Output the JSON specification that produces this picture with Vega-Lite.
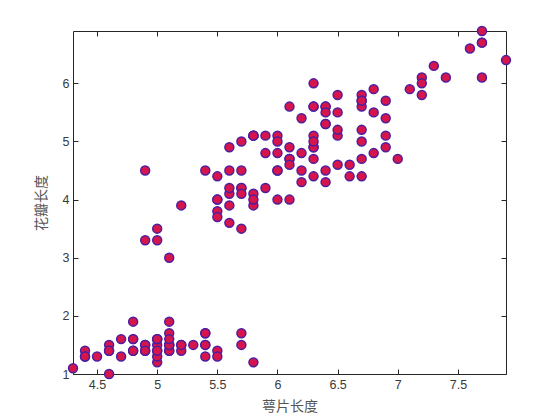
{
  "$schema": "https://vega.github.io/schema/vega-lite/v6.json",
  "width": 433,
  "height": 343,
  "autosize": {"type": "none"},
  "padding": {"left": 73, "top": 31, "right": 54, "bottom": 46},
  "background": "white",
  "config": {
    "view": {"stroke": "#262626", "strokeWidth": 1},
    "axis": {
      "domain": false,
      "grid": false,
      "tickColor": "#262626",
      "tickSize": -5,
      "labelFont": "Liberation Sans",
      "labelFontSize": 12.5,
      "labelColor": "#3a3a3a",
      "format": "~g",
      "titleFont": "Noto Sans CJK SC",
      "titleFontSize": 14,
      "titleFontWeight": "normal",
      "titleColor": "#555555"
    }
  },
  "data": {"values": [
    {"sepal":5.1,"petal":1.4},{"sepal":4.9,"petal":1.4},{"sepal":4.7,"petal":1.3},{"sepal":4.6,"petal":1.5},{"sepal":5.0,"petal":1.4},
    {"sepal":5.4,"petal":1.7},{"sepal":4.6,"petal":1.4},{"sepal":5.0,"petal":1.5},{"sepal":4.4,"petal":1.4},{"sepal":4.9,"petal":1.5},
    {"sepal":5.4,"petal":1.5},{"sepal":4.8,"petal":1.6},{"sepal":4.8,"petal":1.4},{"sepal":4.3,"petal":1.1},{"sepal":5.8,"petal":1.2},
    {"sepal":5.7,"petal":1.5},{"sepal":5.4,"petal":1.3},{"sepal":5.1,"petal":1.4},{"sepal":5.7,"petal":1.7},{"sepal":5.1,"petal":1.5},
    {"sepal":5.4,"petal":1.7},{"sepal":5.1,"petal":1.5},{"sepal":4.6,"petal":1.0},{"sepal":5.1,"petal":1.7},{"sepal":4.8,"petal":1.9},
    {"sepal":5.0,"petal":1.6},{"sepal":5.0,"petal":1.6},{"sepal":5.2,"petal":1.5},{"sepal":5.2,"petal":1.4},{"sepal":4.7,"petal":1.6},
    {"sepal":4.8,"petal":1.6},{"sepal":5.4,"petal":1.5},{"sepal":5.2,"petal":1.5},{"sepal":5.5,"petal":1.4},{"sepal":4.9,"petal":1.5},
    {"sepal":5.0,"petal":1.2},{"sepal":5.5,"petal":1.3},{"sepal":4.9,"petal":1.4},{"sepal":4.4,"petal":1.3},{"sepal":5.1,"petal":1.5},
    {"sepal":5.0,"petal":1.3},{"sepal":4.5,"petal":1.3},{"sepal":4.4,"petal":1.3},{"sepal":5.0,"petal":1.6},{"sepal":5.1,"petal":1.9},
    {"sepal":4.8,"petal":1.4},{"sepal":5.1,"petal":1.6},{"sepal":4.6,"petal":1.4},{"sepal":5.3,"petal":1.5},{"sepal":5.0,"petal":1.4},
    {"sepal":7.0,"petal":4.7},{"sepal":6.4,"petal":4.5},{"sepal":6.9,"petal":4.9},{"sepal":5.5,"petal":4.0},{"sepal":6.5,"petal":4.6},
    {"sepal":5.7,"petal":4.5},{"sepal":6.3,"petal":4.7},{"sepal":4.9,"petal":3.3},{"sepal":6.6,"petal":4.6},{"sepal":5.2,"petal":3.9},
    {"sepal":5.0,"petal":3.5},{"sepal":5.9,"petal":4.2},{"sepal":6.0,"petal":4.0},{"sepal":6.1,"petal":4.7},{"sepal":5.6,"petal":3.6},
    {"sepal":6.7,"petal":4.4},{"sepal":5.6,"petal":4.5},{"sepal":5.8,"petal":4.1},{"sepal":6.2,"petal":4.5},{"sepal":5.6,"petal":3.9},
    {"sepal":5.9,"petal":4.8},{"sepal":6.1,"petal":4.0},{"sepal":6.3,"petal":4.9},{"sepal":6.1,"petal":4.7},{"sepal":6.4,"petal":4.3},
    {"sepal":6.6,"petal":4.4},{"sepal":6.8,"petal":4.8},{"sepal":6.7,"petal":5.0},{"sepal":6.0,"petal":4.5},{"sepal":5.7,"petal":3.5},
    {"sepal":5.5,"petal":3.8},{"sepal":5.5,"petal":3.7},{"sepal":5.8,"petal":3.9},{"sepal":6.0,"petal":5.1},{"sepal":5.4,"petal":4.5},
    {"sepal":6.0,"petal":4.5},{"sepal":6.7,"petal":4.7},{"sepal":6.3,"petal":4.4},{"sepal":5.6,"petal":4.1},{"sepal":5.5,"petal":4.0},
    {"sepal":5.5,"petal":4.4},{"sepal":6.1,"petal":4.6},{"sepal":5.8,"petal":4.0},{"sepal":5.0,"petal":3.3},{"sepal":5.6,"petal":4.2},
    {"sepal":5.7,"petal":4.2},{"sepal":5.7,"petal":4.2},{"sepal":6.2,"petal":4.3},{"sepal":5.1,"petal":3.0},{"sepal":5.7,"petal":4.1},
    {"sepal":6.3,"petal":6.0},{"sepal":5.8,"petal":5.1},{"sepal":7.1,"petal":5.9},{"sepal":6.3,"petal":5.6},{"sepal":6.5,"petal":5.8},
    {"sepal":7.6,"petal":6.6},{"sepal":4.9,"petal":4.5},{"sepal":7.3,"petal":6.3},{"sepal":6.7,"petal":5.8},{"sepal":7.2,"petal":6.1},
    {"sepal":6.5,"petal":5.1},{"sepal":6.4,"petal":5.3},{"sepal":6.8,"petal":5.5},{"sepal":5.7,"petal":5.0},{"sepal":5.8,"petal":5.1},
    {"sepal":6.4,"petal":5.3},{"sepal":6.5,"petal":5.5},{"sepal":7.7,"petal":6.7},{"sepal":7.7,"petal":6.9},{"sepal":6.0,"petal":5.0},
    {"sepal":6.9,"petal":5.7},{"sepal":5.6,"petal":4.9},{"sepal":7.7,"petal":6.7},{"sepal":6.3,"petal":4.9},{"sepal":6.7,"petal":5.7},
    {"sepal":7.2,"petal":6.0},{"sepal":6.2,"petal":4.8},{"sepal":6.1,"petal":4.9},{"sepal":6.4,"petal":5.6},{"sepal":7.2,"petal":5.8},
    {"sepal":7.4,"petal":6.1},{"sepal":7.9,"petal":6.4},{"sepal":6.4,"petal":5.6},{"sepal":6.3,"petal":5.1},{"sepal":6.1,"petal":5.6},
    {"sepal":7.7,"petal":6.1},{"sepal":6.3,"petal":5.6},{"sepal":6.4,"petal":5.5},{"sepal":6.0,"petal":4.8},{"sepal":6.9,"petal":5.4},
    {"sepal":6.7,"petal":5.6},{"sepal":6.9,"petal":5.1},{"sepal":5.8,"petal":5.1},{"sepal":6.8,"petal":5.9},{"sepal":6.7,"petal":5.7},
    {"sepal":6.7,"petal":5.2},{"sepal":6.3,"petal":5.0},{"sepal":6.5,"petal":5.2},{"sepal":6.2,"petal":5.4},{"sepal":5.9,"petal":5.1}
  ]},
  "layer": [
    {
      "mark": {"type": "point", "filled": false, "opacity": 0},
      "encoding": {
        "x": {"field": "sepal", "type": "quantitative", "scale": {"domain": [4.3, 7.9], "nice": false, "zero": false},
              "axis": {"orient": "top", "labels": false, "title": null, "values": [4.5, 5, 5.5, 6, 6.5, 7, 7.5]}},
        "y": {"field": "petal", "type": "quantitative", "scale": {"domain": [1, 6.9], "nice": false, "zero": false},
              "axis": {"orient": "right", "labels": false, "title": null, "values": [1, 2, 3, 4, 5, 6]}}
      }
    },
    {
      "mark": {"type": "point", "filled": true, "shape": "circle", "size": 80, "fill": "#d6154c", "stroke": "#4b1fa0", "strokeWidth": 1.5, "opacity": 1},
      "encoding": {
        "x": {"field": "sepal", "type": "quantitative",
              "axis": {"orient": "bottom", "title": "萼片长度", "values": [4.5, 5, 5.5, 6, 6.5, 7, 7.5], "labelPadding": 9, "titlePadding": 9}},
        "y": {"field": "petal", "type": "quantitative",
              "axis": {"orient": "left", "title": "花瓣长度", "values": [1, 2, 3, 4, 5, 6], "labelPadding": 9, "titlePadding": 14}}
      }
    }
  ],
  "resolve": {"axis": {"x": "independent", "y": "independent"}}
}
